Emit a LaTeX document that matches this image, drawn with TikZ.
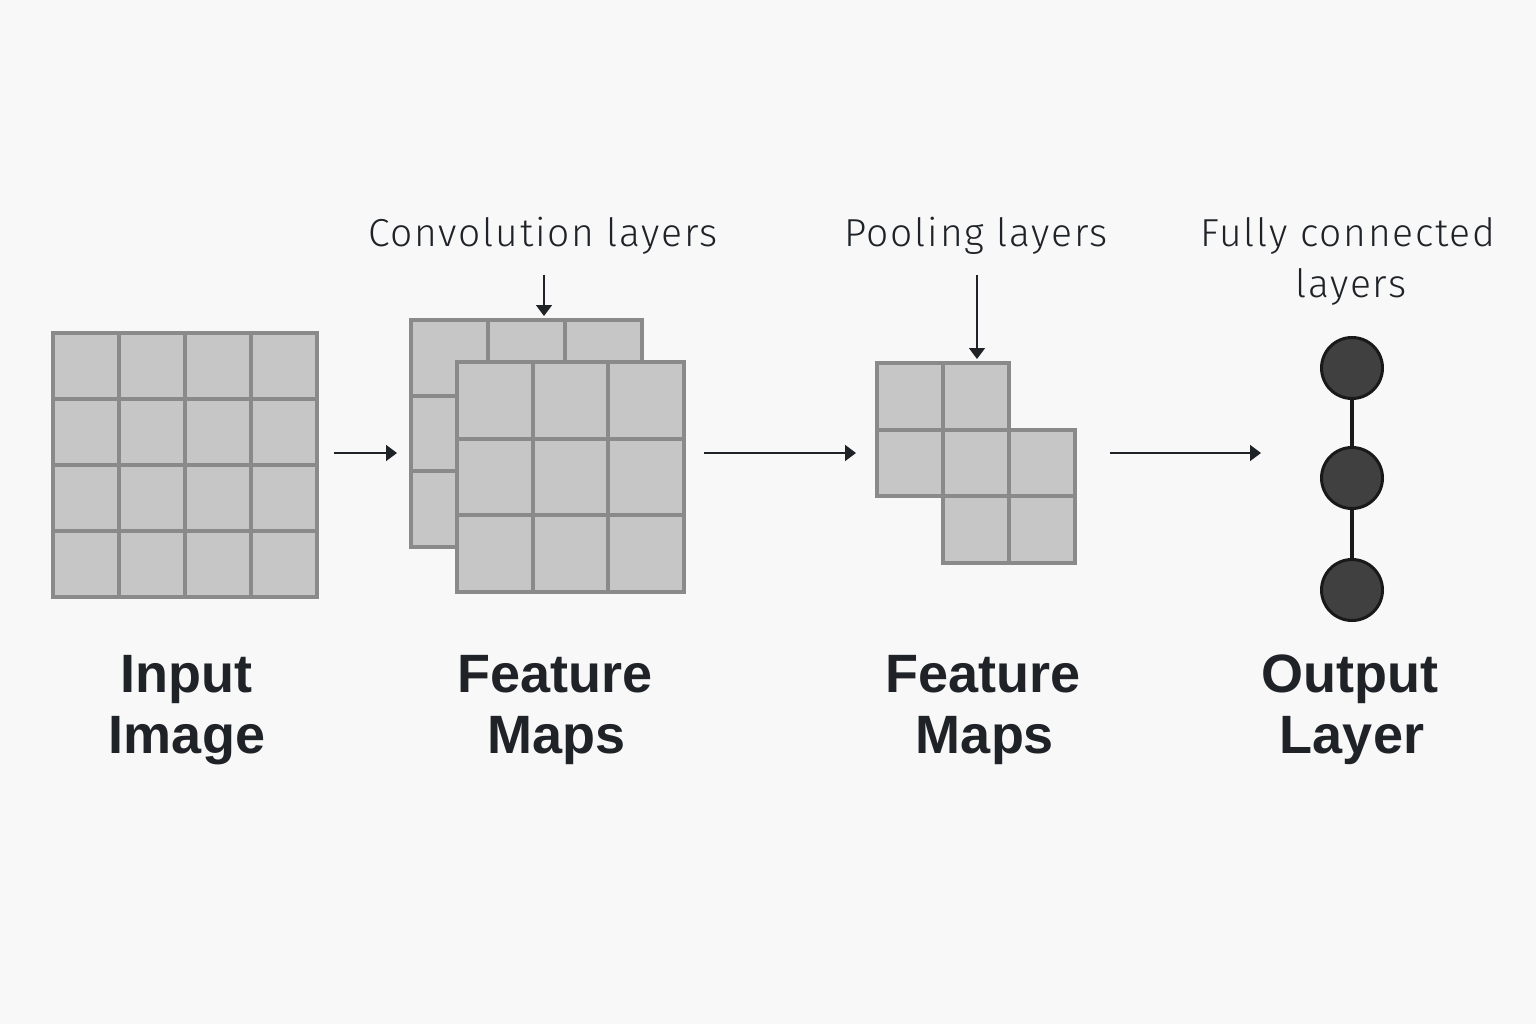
\documentclass[tikz,border=0pt]{standalone}
\usepackage{fontspec}
\setmainfont{Liberation Sans}
\newfontfamily\thinfont[LetterSpace=4.5]{Fira Sans Light}
\usetikzlibrary{arrows.meta}
\definecolor{bgc}{HTML}{F8F8F8}
\definecolor{cellc}{HTML}{C6C6C6}
\definecolor{edgec}{HTML}{8A8A8A}
\definecolor{inkc}{HTML}{1F2328}
\definecolor{dotc}{HTML}{404040}
\tikzset{
  cell/.style={fill=cellc, draw=edgec, line width=4pt},
  flow/.style={draw=inkc, line width=1.5pt, -{Triangle[length=11pt,width=16pt]}},
  caption/.style={font=\thinfont\fontsize{39}{44}\selectfont, text=inkc, anchor=base, inner sep=0pt},
  title/.style={font=\bfseries\fontsize{54}{61}\selectfont, text=inkc, anchor=base, inner sep=0pt},
  neuron/.style={circle, fill=dotc, draw=black!90, line width=3pt, minimum size=61pt, inner sep=0pt},
  link/.style={draw=black!90, line width=3.5pt}
}
\begin{document}
\begin{tikzpicture}[x=1pt,y=-1pt]
\fill[bgc] (0,0) rectangle (1536,1024);
\useasboundingbox (0,0) rectangle (1536,1024);

% Input image 4x4
\foreach \i in {0,...,3}{
  \foreach \j in {0,...,3}{
    \draw[cell] ({53+66*\i},{333+66*\j}) rectangle ({53+66*(\i+1)},{333+66*(\j+1)});
  }
}
% Conv back layer
\foreach \i in {0,...,2}{
  \foreach \j in {0,...,2}{
    \draw[cell] ({411+77*\i},{320+75.7*\j}) rectangle ({411+77*(\i+1)},{320+75.7*(\j+1)});
  }
}
% Conv front layer
\foreach \i in {0,...,2}{
  \foreach \j in {0,...,2}{
    \draw[cell] ({457+75.7*\i},{362+76.7*\j}) rectangle ({457+75.7*(\i+1)},{362+76.7*(\j+1)});
  }
}
% Pooling shape
\foreach \i/\j in {0/0,1/0,0/1,1/1,2/1,1/2,2/2}{
  \draw[cell] ({877+66*\i},{363+66.5*\j}) rectangle ({877+66*(\i+1)},{363+66.5*(\j+1)});
}

% neurons
\node[neuron] (n1) at (1352,368) {};
\node[neuron] (n2) at (1352,478) {};
\node[neuron] (n3) at (1352,590) {};
\draw[link] (n1) -- (n2);
\draw[link] (n2) -- (n3);

% arrow end points
\coordinate (a1s) at (334,453);
\coordinate (a1e) at (397,453);
\coordinate (a2s) at (704,453);
\coordinate (a2e) at (856,453);
\coordinate (a3s) at (1110,453);
\coordinate (a3e) at (1261,453);
\coordinate (c1s) at (544,275);
\coordinate (c1e) at (544,316);
\coordinate (p1s) at (977,275);
\coordinate (p1e) at (977,359);
\draw[flow] (a1s) -- (a1e);
\draw[flow] (a2s) -- (a2e);
\draw[flow] (a3s) -- (a3e);
\draw[flow] (c1s) -- (c1e);
\draw[flow] (p1s) -- (p1e);

% captions
\node[caption] (conv) at (543,247) {Convolution layers};
\node[caption] (pool) at (976,247) {Pooling layers};
\node[caption] (fc1) at (1348,247) {Fully connected};
\node[caption] (fc2) at (1351,298) {layers};

% titles
\node[title] (in1) at (186,692) {Input};
\node[title] (in2) at (187,753) {Image};
\node[title] (fm1) at (555,692) {Feature};
\node[title] (fm2) at (557,753) {Maps};
\node[title] (fm3) at (983,692) {Feature};
\node[title] (fm4) at (985,753) {Maps};
\node[title] (ou1) at (1350,692) {Output};
\node[title] (ou2) at (1352,753) {Layer};
\end{tikzpicture}
\end{document}
